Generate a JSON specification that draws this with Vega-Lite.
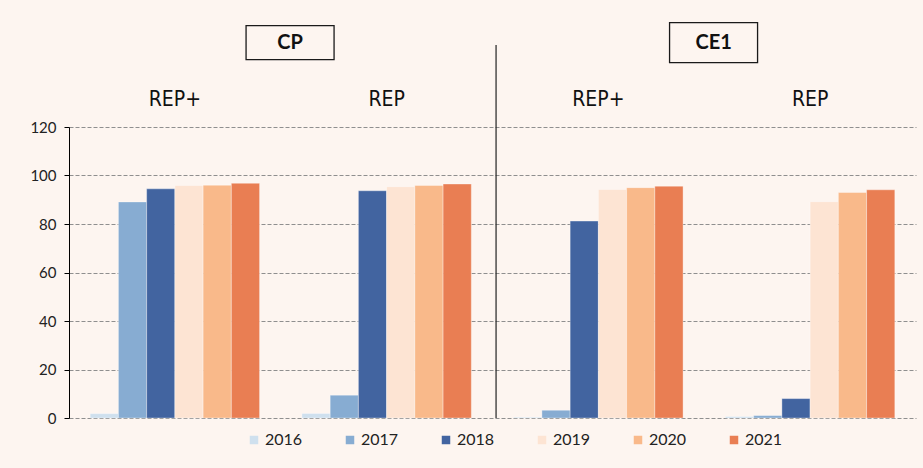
{
  "$schema": "https://vega.github.io/schema/vega-lite/v6.json",
  "width": 847,
  "height": 291,
  "autosize": {"type": "none"},
  "padding": {"left": 69, "top": 127, "right": 7, "bottom": 50},
  "background": "#FDF5F0",
  "config": {"view": {"stroke": null}, "font": "Lato"},
  "datasets": {
    "bars": [
      {"grp": "CP|REP+", "year": "2016", "value": 1.8},
      {"grp": "CP|REP+", "year": "2017", "value": 89.1},
      {"grp": "CP|REP+", "year": "2018", "value": 94.5},
      {"grp": "CP|REP+", "year": "2019", "value": 95.9},
      {"grp": "CP|REP+", "year": "2020", "value": 96.0},
      {"grp": "CP|REP+", "year": "2021", "value": 96.8},
      {"grp": "CP|REP", "year": "2016", "value": 1.9},
      {"grp": "CP|REP", "year": "2017", "value": 9.4},
      {"grp": "CP|REP", "year": "2018", "value": 93.7},
      {"grp": "CP|REP", "year": "2019", "value": 95.4},
      {"grp": "CP|REP", "year": "2020", "value": 95.9},
      {"grp": "CP|REP", "year": "2021", "value": 96.5},
      {"grp": "CE1|REP+", "year": "2016", "value": 0.3},
      {"grp": "CE1|REP+", "year": "2017", "value": 3.2},
      {"grp": "CE1|REP+", "year": "2018", "value": 81.2},
      {"grp": "CE1|REP+", "year": "2019", "value": 94.2},
      {"grp": "CE1|REP+", "year": "2020", "value": 95.0},
      {"grp": "CE1|REP+", "year": "2021", "value": 95.6},
      {"grp": "CE1|REP", "year": "2016", "value": 0.6},
      {"grp": "CE1|REP", "year": "2017", "value": 1.0},
      {"grp": "CE1|REP", "year": "2018", "value": 8.0},
      {"grp": "CE1|REP", "year": "2019", "value": 89.2},
      {"grp": "CE1|REP", "year": "2020", "value": 93.0},
      {"grp": "CE1|REP", "year": "2021", "value": 94.1}
    ],
    "panels": [
      {"panel": "CP", "grp": "CP|REP+"},
      {"panel": "CE1", "grp": "CE1|REP+"}
    ]
  },
  "layer": [
    {
      "data": {"name": "bars"},
      "mark": {"type": "bar", "stroke": "#ffffff", "strokeOpacity": 0.35, "strokeWidth": 1},
      "encoding": {
        "x": {
          "field": "grp",
          "type": "nominal",
          "scale": {"domain": ["CP|REP+", "CP|REP", "CE1|REP+", "CE1|REP"], "paddingInner": 0.2, "paddingOuter": 0.1},
          "axis": {
            "orient": "top",
            "title": null,
            "domain": false,
            "ticks": false,
            "labelExpr": "split(datum.value, '|')[1]",
            "labelFontSize": 21,
            "labelFont": "Liberation Sans Narrow, DejaVu Sans Condensed, sans-serif",
            "labelColor": "#111111",
            "labelPadding": 28,
            "labelAngle": 0,
            "labelBaseline": "middle"
          }
        },
        "xOffset": {
          "field": "year",
          "type": "nominal",
          "scale": {"paddingInner": 0, "paddingOuter": 0}
        },
        "y": {
          "field": "value",
          "type": "quantitative",
          "scale": {"domain": [0, 120], "nice": false},
          "axis": {
            "title": null,
            "values": [0, 20, 40, 60, 80, 100, 120],
            "grid": true,
            "gridDash": [4, 2],
            "gridColor": "#8f8f8f",
            "gridWidth": 1,
            "domainColor": "#000000",
            "tickColor": "#000000",
            "tickSize": 5,
            "labelFontSize": 15,
            "labelColor": "#222222",
            "labelPadding": 8
          }
        },
        "color": {
          "field": "year",
          "type": "nominal",
          "scale": {
            "domain": ["2016", "2017", "2018", "2019", "2020", "2021"],
            "range": ["#CFE0EE", "#87ACD2", "#4264A0", "#FDE4D3", "#F9B98A", "#E97E53"]
          },
          "legend": {
            "orient": "none",
            "legendX": 177,
            "legendY": 305,
            "direction": "horizontal",
            "columns": 6,
            "title": null,
            "symbolType": "square",
            "symbolSize": 72,
            "symbolStrokeWidth": 0,
            "labelFontSize": 16,
            "labelColor": "#222222",
            "labelOffset": 3,
            "columnPadding": 39,
            "padding": 0
          }
        }
      }
    },
    {
      "data": {"values": [{}]},
      "mark": {"type": "rule", "color": "#222222", "strokeWidth": 1.2},
      "encoding": {
        "x": {"datum": "CP|REP", "bandPosition": 1.146},
        "y": {"datum": 0},
        "y2": {"datum": 153.8}
      }
    },
    {
      "data": {"name": "panels"},
      "mark": {"type": "point", "filled": false, "size": 7744, "stroke": "#1a1a1a", "strokeWidth": 1.3, "opacity": 1},
      "encoding": {
        "x": {"field": "grp", "type": "nominal", "bandPosition": 1.18},
        "y": {"datum": 154.8},
        "shape": {
          "field": "panel",
          "type": "nominal",
          "scale": {
            "domain": ["CP", "CE1"],
            "range": ["M-1,-0.386H1V0.386H-1Z", "M-1,-0.4545H1V0.4545H-1Z"]
          },
          "legend": null
        }
      }
    },
    {
      "data": {"name": "panels"},
      "mark": {"type": "text", "fontSize": 20, "fontWeight": "bold", "align": "center", "baseline": "middle", "color": "#111111"},
      "encoding": {
        "x": {"field": "grp", "type": "nominal", "bandPosition": 1.18},
        "y": {"datum": 154.8},
        "text": {"field": "panel", "type": "nominal"}
      }
    }
  ]
}
